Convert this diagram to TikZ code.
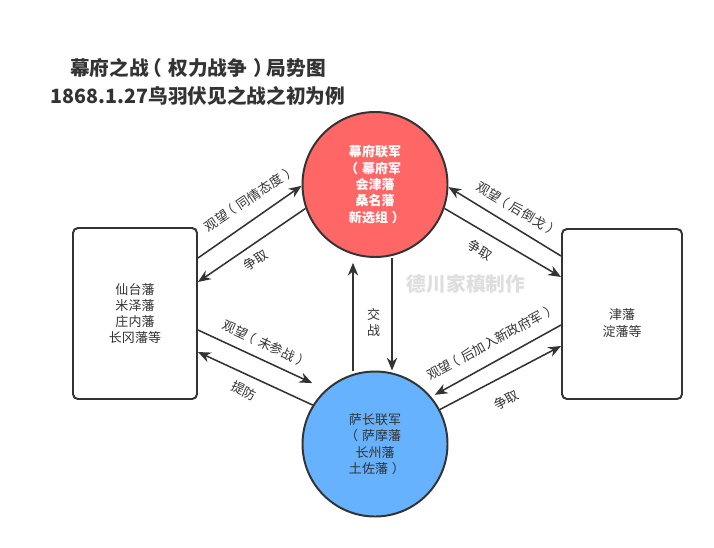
\documentclass[tikz,border=0pt]{standalone}
\usepackage{fontspec}
\setmainfont{Noto Sans CJK SC}
\usepackage{xcolor,tikz}
\usetikzlibrary{arrows.meta}
\definecolor{ink}{HTML}{333333}
\definecolor{redc}{HTML}{FF6666}
\definecolor{bluec}{HTML}{66B2FF}
% full-width brackets with the mark centred in its em box
\newcommand\lpar{\makebox[1em][l]{\kern-.3em（}}
\newcommand\rpar{\makebox[1em][l]{\kern.3em）}}

\begin{document}
\begin{tikzpicture}[font=\fontsize{9.25}{11.6}\selectfont,text=ink,
 b/.style={draw=ink,line width=1.4pt,rounded corners=3.5pt,align=center,
 minimum width=3.1cm,minimum height=4.275cm},
 cir/.style={circle,draw=ink,line width=1.4pt,minimum size=3.625cm,inner sep=0pt,align=center},
 a/.style={-{Stealth[length=3.2mm,width=2.6mm]},line width=1.1pt,draw=ink},
 lbl/.style={inner sep=1pt}]
\useasboundingbox (0,0) rectangle (17.85,-13.675);
\node[font=\fontsize{14}{20}\selectfont\bfseries,align=center] (title) at (4.95,-2.05)
 {幕府之战\lpar 权力战争\rpar 局势图\\1868.1.27鸟羽伏见之战之初为例};
\node[cir,fill=redc,text=white,font=\fontsize{9.25}{11.6}\selectfont\bfseries] (fu) at (9.375,-4.6125)
 {幕府联军\\\lpar 幕府军\\会津藩\\桑名藩\\新选组\rpar};
\node[cir,fill=bluec] (sa) at (9.375,-11.1) {萨长联军\\\lpar 萨摩藩\\长州藩\\土佐藩\rpar};
\node[b] (lb) at (3.375,-7.8375) {仙台藩\\米泽藩\\庄内藩\\长冈藩等};
\node[b,minimum width=3cm,minimum height=4.25cm] (rb) at (15.55,-7.85) {};
\node[align=center] (rbtext) at ([yshift=-0.225cm]rb.center) {津藩\\淀藩等};
\node[font=\fontsize{14}{16}\selectfont\bfseries,text=black!13] (mark) at (11.65,-7.1) {德川家稹制作};
% left side
\draw[a] ([yshift=1.3875cm]lb.east) -- (fu.181);
\draw[a] (fu.199) -- ([yshift=0.7875cm]lb.east);
\draw[a,shorten >=0.375cm] ([yshift=-0.4125cm]lb.east) -- (sa.132);
\draw[a] (sa.148) -- ([yshift=-0.9625cm]lb.east);
% right side
\draw[a] ([yshift=1.45cm]rb.west) -- (fu.-2);
\draw[a] (fu.-19) -- ([yshift=0.925cm]rb.west);
\draw[a,shorten >=0.1cm] ([yshift=-0.275cm]rb.west) -- (sa.40);
\draw[a] (sa.28) -- ([yshift=-0.8cm]rb.west);
% middle
\draw[a,shorten >=0.12cm] ([xshift=-0.55cm]sa.north) -- ([xshift=-0.55cm]fu.south);
\draw[a] ([xshift=0.425cm]fu.south) -- ([xshift=0.425cm]sa.north);
% labels
\node[lbl,rotate=34] (l1) at (6.225,-4.975) {观望\lpar 同情态度\rpar};
\node[lbl,rotate=34] (l2) at (6.3875,-6.5125) {争取};
\node[lbl,rotate=-31] (l3) at (12.925,-5.225) {观望\lpar 后倒戈\rpar};
\node[lbl,rotate=-31] (l4) at (12.0125,-6.25) {争取};
\node[lbl,align=center] (l5) at (9.3375,-8.0625) {交\\战};
\node[lbl,rotate=-25] (l6) at (6.625,-8.5875) {观望\lpar 未参战\rpar};
\node[lbl,rotate=-25] (l7) at (6.1,-9.775) {提防};
\node[lbl,rotate=28.5] (l8) at (12.2625,-8.5625) {观望\lpar 后加入新政府军\rpar};
\node[lbl,rotate=28.5] (l9) at (12.6625,-10.0) {争取};
\end{tikzpicture}
\end{document}
